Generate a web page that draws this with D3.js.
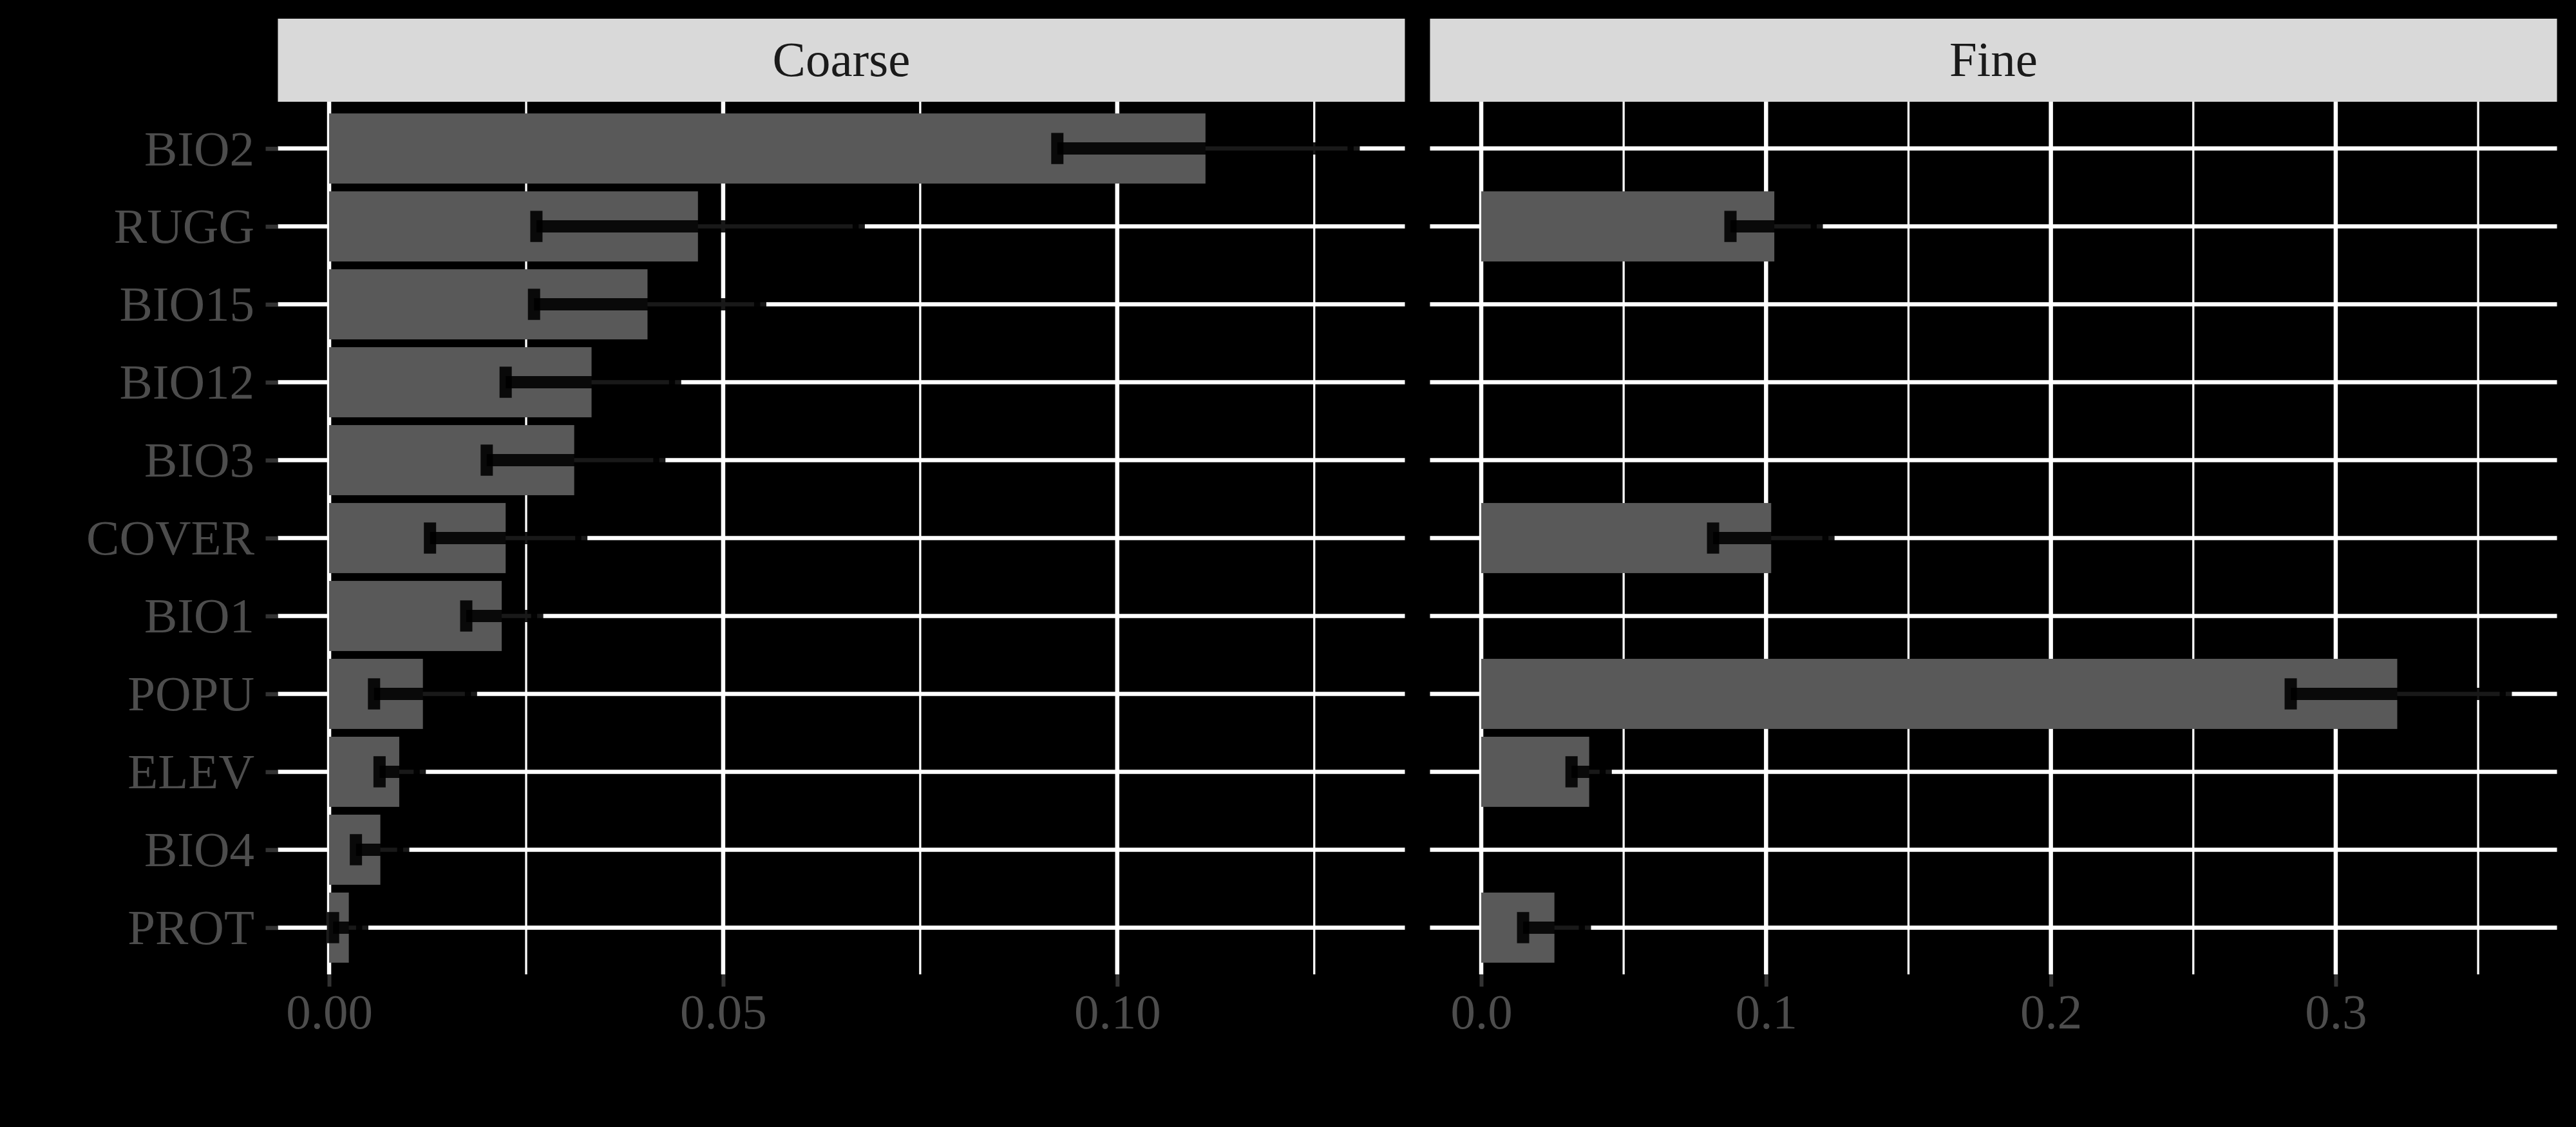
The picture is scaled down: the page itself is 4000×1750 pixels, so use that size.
<!DOCTYPE html>
<html>
<head>
<meta charset="utf-8">
<script src="https://cdn.jsdelivr.net/npm/d3@7"></script>
<style>
  html, body { margin: 0; padding: 0; background: #000; }
  svg { display: block; }
</style>
</head>
<body>
<script>
// ---- data ----
const categories = ["BIO2","RUGG","BIO15","BIO12","BIO3","COVER","BIO1","POPU","ELEV","BIO4","PROT"];
const facets = ["Coarse","Fine"];

const coarseMean  = [0.1112, 0.0468, 0.0404, 0.0333, 0.0311, 0.0224, 0.0219, 0.0119, 0.0089, 0.0065, 0.0025];
const coarseLower = [0.0924, 0.0263, 0.0260, 0.0224, 0.0200, 0.0128, 0.0174, 0.0057, 0.0064, 0.0034, 0.0005];
const coarseUpper = [0.1300, 0.0672, 0.0547, 0.0439, 0.0419, 0.0320, 0.0264, 0.0180, 0.0115, 0.0094, 0.0042];

const fineMean  = [null, 0.1029, null, null, null, 0.1018, null, 0.3216, 0.0379, null, 0.0257];
const fineLower = [null, 0.0875, null, null, null, 0.0814, null, 0.2842, 0.0317, null, 0.0147];
const fineUpper = [null, 0.1178, null, null, null, 0.1219, null, 0.3597, 0.0437, null, 0.0364];

const coarseMajorTicks = [0, 0.05, 0.10];
const coarseTickLabels = ["0.00", "0.05", "0.10"];
const coarseMinorTicks = [0.025, 0.075, 0.125];

const fineMajorTicks = [0, 0.1, 0.2, 0.3];
const fineTickLabels = ["0.0", "0.1", "0.2", "0.3"];
const fineMinorTicks = [0.05, 0.15, 0.25, 0.35];

// ---- layout ----
const W = 4000, H = 1750;
const panelTop = 158, panelBottom = 1513;
const stripTop = 29;
const panelW = 1750;
const panelLefts = [431.5, 2220.5];
const FONT = "'Liberation Serif', 'Times New Roman', serif";
const FS = 77;

const svg = d3.select("body").append("svg")
  .attr("width", W).attr("height", H)
  .style("background", "#000");

const y = d3.scalePoint().domain(categories).range([panelTop, panelBottom]).padding(0.6);
const step = y.step();
const barH = step * 0.9;
const capH = step * 0.4;

const panels = [
  { name: facets[0], mean: coarseMean, lo: coarseLower, hi: coarseUpper,
    major: coarseMajorTicks, labels: coarseTickLabels, minor: coarseMinorTicks },
  { name: facets[1], mean: fineMean, lo: fineLower, hi: fineUpper,
    major: fineMajorTicks, labels: fineTickLabels, minor: fineMinorTicks }
];

panels.forEach((p, pi) => {
  const left = panelLefts[pi];
  const maxV = d3.max(p.hi.filter(v => v != null));
  const minV = 0;
  const ex = (maxV - minV) * 0.05;
  const x = d3.scaleLinear().domain([minV - ex, maxV + ex]).range([left, left + panelW]);

  const g = svg.append("g");

  // strip
  g.append("rect")
    .attr("x", left).attr("y", stripTop)
    .attr("width", panelW).attr("height", panelTop - stripTop)
    .attr("fill", "#d9d9d9");
  g.append("text")
    .attr("x", left + panelW / 2).attr("y", 118)
    .attr("text-anchor", "middle")
    .attr("font-family", FONT).attr("font-size", FS)
    .attr("fill", "#1a1a1a")
    .text(p.name);

  // grid: minor vertical
  g.selectAll(".minor").data(p.minor).join("line")
    .attr("x1", d => x(d)).attr("x2", d => x(d))
    .attr("y1", panelTop).attr("y2", panelBottom)
    .attr("stroke", "#fff").attr("stroke-width", 3.3);
  // grid: major vertical
  g.selectAll(".majorx").data(p.major).join("line")
    .attr("x1", d => x(d)).attr("x2", d => x(d))
    .attr("y1", panelTop).attr("y2", panelBottom)
    .attr("stroke", "#fff").attr("stroke-width", 6.5);
  // grid: major horizontal
  g.selectAll(".majory").data(categories).join("line")
    .attr("x1", left).attr("x2", left + panelW)
    .attr("y1", d => y(d)).attr("y2", d => y(d))
    .attr("stroke", "#fff").attr("stroke-width", 6.5);

  const rows = categories.map((c, i) => ({ c, m: p.mean[i], lo: p.lo[i], hi: p.hi[i] }))
    .filter(d => d.m != null);

  // bars
  g.selectAll(".bar").data(rows).join("rect")
    .attr("x", x(0))
    .attr("y", d => y(d.c) - barH / 2)
    .attr("width", d => x(d.m) - x(0))
    .attr("height", barH)
    .attr("fill", "#595959");

  // error bars: three separate segments with alpha (overlaps compound)
  const eb = g.append("g");
  const segStyle = sel => sel.attr("stroke", "#000").attr("stroke-opacity", 0.9)
    .attr("stroke-width", 19).attr("stroke-linecap", "butt");
  rows.forEach(d => {
    const cy = y(d.c);
    eb.append("line").attr("x1", x(d.lo)).attr("x2", x(d.lo))
      .attr("y1", cy - capH / 2).attr("y2", cy + capH / 2).call(segStyle);
    eb.append("line").attr("x1", x(d.lo)).attr("x2", x(d.hi))
      .attr("y1", cy).attr("y2", cy).call(segStyle);
    eb.append("line").attr("x1", x(d.hi)).attr("x2", x(d.hi))
      .attr("y1", cy - capH / 2).attr("y2", cy + capH / 2).call(segStyle);
  });

  // x axis
  const xAxis = d3.axisBottom(x)
    .tickValues(p.major)
    .tickFormat((d, i) => p.labels[i])
    .tickSize(19).tickPadding(10.3);
  const ax = svg.append("g").attr("transform", `translate(0,${panelBottom})`).call(xAxis);
  ax.select(".domain").remove();
  ax.selectAll(".tick line").attr("stroke", "#333333").attr("stroke-width", 6);
  ax.selectAll(".tick text")
    .attr("font-family", FONT).attr("font-size", FS).attr("fill", "#4d4d4d");

  // y axis only for first panel
  if (pi === 0) {
    const yAxis = d3.axisLeft(y).tickSize(19).tickPadding(17.5);
    const ay = svg.append("g").attr("transform", `translate(${left},0)`).call(yAxis);
    ay.select(".domain").remove();
    ay.selectAll(".tick line").attr("stroke", "#333333").attr("stroke-width", 6.5);
    ay.selectAll(".tick text")
      .attr("font-family", FONT).attr("font-size", FS).attr("fill", "#4d4d4d")
      .attr("dy", "0.33em");
  }
});
</script>
</body>
</html>
